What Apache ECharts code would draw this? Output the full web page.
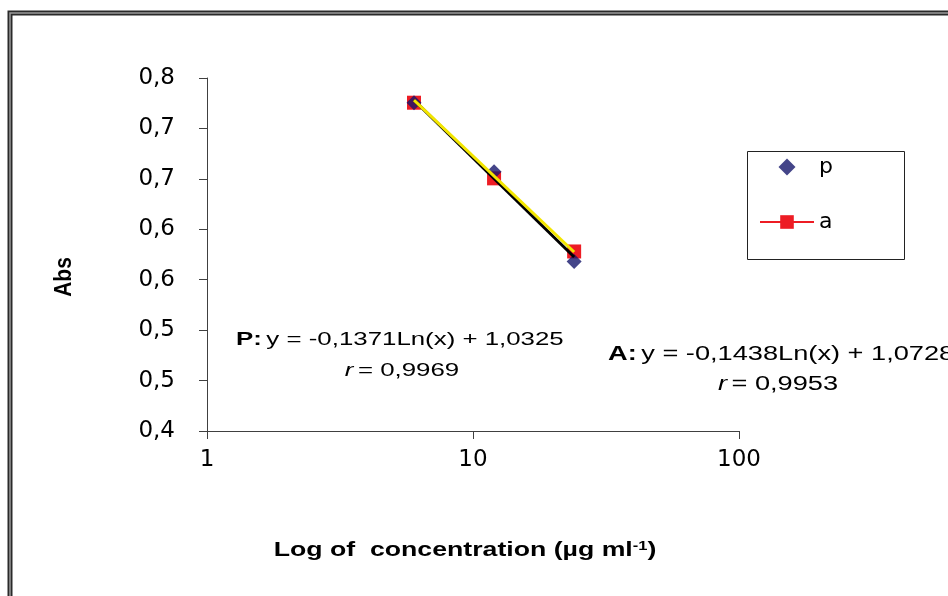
<!DOCTYPE html>
<html>
<head>
<meta charset="utf-8">
<script src="https://cdn.jsdelivr.net/npm/echarts@6/dist/echarts.min.js"></script>
<style>
html,body{margin:0;padding:0;background:#fff;}
#chart{width:948px;height:596px;}
</style>
</head>
<body>
<div id="chart"></div>
<script>
// ---- data ----
const xConc = [6, 12, 24];
const pAbs = [0.7255, 0.657, 0.568];
const aAbs = [0.7255, 0.6505, 0.578];
const trendX = [6, 24];
const pTrendY = [0.728, 0.5725];
const aTrendY = [0.728, 0.5775];
const yMin = 0.4, yMax = 0.75, yStep = 0.05;
const yTickLabels = ['0,4', '0,5', '0,5', '0,6', '0,6', '0,7', '0,7', '0,8'];
const xTickLabels = {1: '1', 10: '10', 100: '100'};
const seriesNames = ['p', 'a'];
const pEquation = 'y = -0,1371Ln(x) + 1,0325';
const pR = '= 0,9969';
const aEquation = 'y = -0,1438Ln(x) + 1,0728';
const aR = '= 0,9953';
const xTitle = 'Log of  concentration (µg ml';
const yTitle = 'Abs';

const pairs = (xs, ys) => xs.map((x, i) => [x, ys[i]]);
const FONT = 'Liberation Sans';
const TICKFONT = 'DejaVu Sans';
const SX = 1.36; // horizontal stretch of the reference picture

const chart = echarts.init(document.getElementById('chart'));
chart.setOption({
  backgroundColor: '#fff',
  animation: false,
  textStyle: { fontFamily: FONT },
  grid: { left: 207, top: 78, right: 209, bottom: 165, containLabel: false },
  xAxis: {
    type: 'log', logBase: 10, min: 1, max: 100,
    axisLine: { show: true, lineStyle: { color: '#404040', width: 1 } },
    axisTick: { show: true, inside: false, length: 8, lineStyle: { color: '#404040' } },
    minorTick: { show: false },
    splitLine: { show: false },
    axisLabel: { color: '#000', fontSize: 23, fontFamily: TICKFONT, margin: 18,
      formatter: v => xTickLabels[Math.round(v)] || '' }
  },
  yAxis: {
    type: 'value', min: yMin, max: yMax, interval: yStep,
    axisLine: { show: true, lineStyle: { color: '#404040', width: 1 } },
    axisTick: { show: true, inside: false, length: 8, lineStyle: { color: '#404040' } },
    splitLine: { show: false },
    axisLabel: { color: '#000', fontSize: 23, fontFamily: TICKFONT, margin: 32,
      formatter: v => yTickLabels[Math.round((v - yMin) / yStep)] }
  },
  legend: {
    data: [
      { name: seriesNames[0], icon: 'path://M8,0L16,8L8,16L0,8Z' },
      { name: seriesNames[1], lineStyle: { color: '#ed1c24', width: 2, opacity: 1 } }
    ],
    orient: 'vertical',
    left: 759, top: 156,
    itemWidth: 54, itemHeight: 17, itemGap: 33,
    textStyle: { fontSize: 22, color: '#000', fontFamily: TICKFONT },
    padding: 0,
    selectedMode: false
  },
  series: [
    {
      name: seriesNames[1], type: 'line', data: pairs(xConc, aAbs),
      symbol: 'rect', symbolSize: 14, z: 2,
      itemStyle: { color: '#ed1c24' },
      lineStyle: { color: '#ed1c24', width: 2, opacity: 0 }
    },
    {
      name: seriesNames[0], type: 'scatter', data: pairs(xConc, pAbs),
      symbol: 'diamond', symbolSize: 15, z: 3,
      itemStyle: { color: '#15166b' }
    },
    {
      name: 'pTrend', type: 'line', data: pairs(trendX, pTrendY),
      symbol: 'none', z: 4, silent: true,
      lineStyle: { color: '#000', width: 3 }
    },
    {
      name: 'aTrend', type: 'line', data: pairs(trendX, aTrendY),
      symbol: 'none', z: 5, silent: true,
      lineStyle: { color: '#f3e600', width: 3 }
    }
  ],
  graphic: [
    { type: 'rect', shape: { x: 10, y: 13, width: 1200, height: 1200 },
      style: { fill: 'none', stroke: '#2a2a2a', lineWidth: 5 }, silent: true, z: 0 },
    { type: 'rect', shape: { x: 10, y: 13, width: 1200, height: 1200 },
      style: { fill: 'none', stroke: '#9a9a9a', lineWidth: 1.5 }, silent: true, z: 1 },
    { type: 'rect', shape: { x: 747.5, y: 151.5, width: 157, height: 108 },
      style: { fill: 'none', stroke: '#222', lineWidth: 1 }, silent: true, z: 1 },
    { type: 'text', x: 64, y: 277, rotation: Math.PI / 2, scaleY: 1.15,
      style: { text: yTitle, font: 'bold 21px "Liberation Sans"', fill: '#000',
        align: 'center', verticalAlign: 'middle' } },
    { type: 'text', x: 465, y: 550, scaleX: 1.27,
      style: { text: '{b|' + xTitle + '}{s|-1}{b|)}',
        align: 'center', verticalAlign: 'middle',
        rich: {
          b: { font: 'bold 21px "Liberation Sans"', fill: '#000', verticalAlign: 'bottom' },
          s: { font: 'bold 13px "Liberation Sans"', fill: '#000', verticalAlign: 'top', padding: [0, 0, 8, 0] }
        } } },
    { type: 'text', x: 236, y: 340, scaleX: SX,
      style: { text: '{b|P:} {n|' + pEquation + '}', verticalAlign: 'middle',
        rich: {
          b: { font: 'bold 19px "Liberation Sans"', fill: '#000' },
          n: { font: '19px "Liberation Sans"', fill: '#000' }
        } } },
    { type: 'text', x: 402, y: 371, scaleX: SX,
      style: { text: '{i|r} {n|' + pR + '}', align: 'center', verticalAlign: 'middle',
        rich: {
          i: { font: 'italic 19px "Liberation Sans"', fill: '#000' },
          n: { font: '19px "Liberation Sans"', fill: '#000' }
        } } },
    { type: 'text', x: 608, y: 354, scaleX: SX,
      style: { text: '{b|A:} {n|' + aEquation + '}', verticalAlign: 'middle',
        rich: {
          b: { font: 'bold 20px "Liberation Sans"', fill: '#000' },
          n: { font: '20px "Liberation Sans"', fill: '#000' }
        } } },
    { type: 'text', x: 778, y: 384, scaleX: SX,
      style: { text: '{i|r} {n|' + aR + '}', align: 'center', verticalAlign: 'middle',
        rich: {
          i: { font: 'italic 20px "Liberation Sans"', fill: '#000' },
          n: { font: '20px "Liberation Sans"', fill: '#000' }
        } } }
  ]
});
</script>
</body>
</html>
